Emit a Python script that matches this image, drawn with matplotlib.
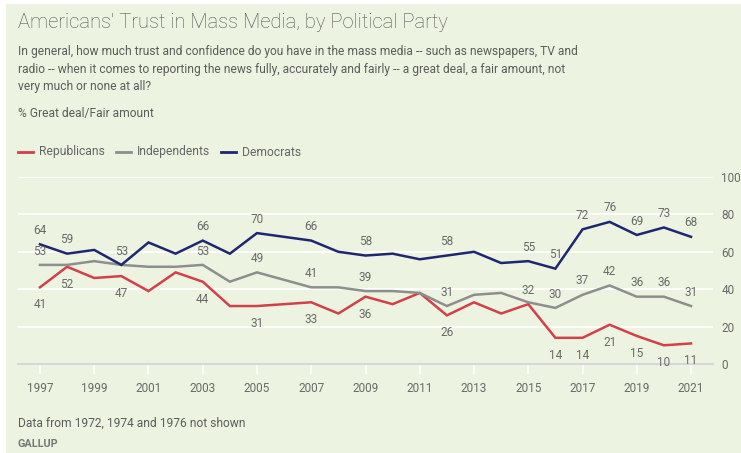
import matplotlib.pyplot as plt
from matplotlib.patches import Rectangle

# Gallup: % Great deal/Fair amount of trust in mass media (no 2006 survey)
years = [1997, 1998, 1999, 2000, 2001, 2002, 2003, 2004, 2005, 2007, 2008, 2009,
         2010, 2011, 2012, 2013, 2014, 2015, 2016, 2017, 2018, 2019, 2020, 2021]
republicans = [41, 52, 46, 47, 39, 49, 44, 31, 31, 33, 27, 36,
               32, 38, 26, 33, 27, 32, 14, 14, 21, 15, 10, 11]
independents = [53, 53, 55, 53, 52, 52, 53, 44, 49, 41, 41, 39,
                39, 38, 31, 37, 38, 33, 30, 37, 42, 36, 36, 31]
democrats = [64, 59, 61, 53, 65, 59, 66, 59, 70, 66, 60, 58,
             59, 56, 58, 60, 54, 55, 51, 72, 76, 69, 73, 68]

# years that get a value label, and whether it sits above (+1) or below (-1)
rep_labels = {1997: -1, 1998: -1, 2000: -1, 2003: -1, 2005: -1, 2007: -1, 2009: -1,
              2012: -1, 2015: 1, 2016: -1, 2017: -1, 2018: -1, 2019: -1, 2020: -1, 2021: -1}
ind_labels = {1997: 1, 2003: 1, 2005: 1, 2007: 1, 2009: 1, 2012: 1, 2016: 1,
              2017: 1, 2018: 1, 2019: 1, 2020: 1, 2021: 1}
dem_labels = {1997: 1, 1998: 1, 2000: 1, 2003: 1, 2005: 1, 2007: 1, 2009: 1, 2012: 1,
              2015: 1, 2016: 1, 2017: 1, 2018: 1, 2019: 1, 2020: 1, 2021: 1}

series = [
    ("Republicans", republicans, "#D2404A", rep_labels),
    ("Independents", independents, "#8E8E8E", ind_labels),
    ("Democrats", democrats, "#1E2870", dem_labels),
]

subtitle = [
    "In general, how much trust and confidence do you have in the mass media -- such as newspapers, TV and",
    "radio -- when it comes to reporting the news fully, accurately and fairly -- a great deal, a fair amount, not",
    "very much or none at all?",
]

bg = "#EDF3E1"
grey_txt = "#6a6a6a"
plt.rcParams['font.family'] = ['Roboto', 'DejaVu Sans']

W, H = 741, 453
fig = plt.figure(figsize=(W / 100, H / 100), dpi=100, facecolor="white")
fig.patches.append(Rectangle((6 / W, 0), 1, 1 - 4 / H, transform=fig.transFigure,
                             facecolor=bg, edgecolor="none", zorder=-10))


def px(x, y):
    return x / W, 1 - y / H


ax = fig.add_axes([18 / W, 1 - 364 / H, (713 - 18) / W, (364 - 177) / H])
ax.set_facecolor(bg)
ax.patch.set_alpha(0)

for name, vals, color, labs in series:
    ax.plot(years, vals, color=color, lw=1.8, solid_joinstyle="miter", zorder=3)
    for yr, side in labs.items():
        v = vals[years.index(yr)]
        ax.annotate(str(v), (yr, v), xytext=(0, 10 if side > 0 else -12.5),
                    textcoords="offset points", ha="center", va="center",
                    fontsize=8.5, color=grey_txt, zorder=4)

ax.set_xlim(1996.19, 2021.81)
ax.set_ylim(0, 100)
ax.set_yticks([0, 20, 40, 60, 80, 100])
ax.yaxis.tick_right()
ax.tick_params(axis="y", length=0, pad=6, labelsize=8.5, labelcolor=grey_txt)
for lbl in ax.get_yticklabels():
    lbl.set_horizontalalignment("left")
ax.grid(axis="y", color="white", lw=1.3, zorder=1)
ax.set_xticks(range(1997, 2022, 2))
ax.tick_params(axis="x", direction="out", length=7, width=1.3, color="white",
               pad=6, labelsize=8.5, labelcolor=grey_txt)
for s in ["top", "left", "right"]:
    ax.spines[s].set_visible(False)
ax.spines["bottom"].set_color("#D6D6DF")
ax.spines["bottom"].set_linewidth(1.5)
ax.set_axisbelow(True)

# header
fig.text(*px(18, 23), "Americans' Trust in Mass Media, by Political Party",
         fontsize=14.5, color="#555555", va="center", ha="left", fontweight="light")
for i, line in enumerate(subtitle):
    fig.text(*px(18, 52 + 17.3 * i), line, fontsize=8.65, color="#5c5c5c",
             va="center", ha="left")
fig.text(*px(18, 113), "% Great deal/Fair amount", fontsize=8.65, color="#5c5c5c",
         va="center", ha="left")

# legend row
lx = 18
for name, vals, color, labs in series:
    fig.lines.append(plt.Line2D([lx / W, (lx + 15) / W], [1 - 152 / H] * 2,
                                transform=fig.transFigure, color=color, lw=2))
    t = fig.text(*px(lx + 21, 152), name, fontsize=8.7, color="#666666",
                 va="center", ha="left")
    fig.canvas.draw()
    bb = t.get_window_extent()
    lx = bb.x1 + 11

# footer
fig.text(*px(18, 423), "Data from 1972, 1974 and 1976 not shown", fontsize=8.65,
         color="#5c5c5c", va="center", ha="left")
fig.text(*px(18, 444), "GALLUP", fontsize=7.8, color="#777777",
         va="center", ha="left", fontweight="bold")

fig.savefig("out.png", dpi=100, facecolor=fig.get_facecolor())
